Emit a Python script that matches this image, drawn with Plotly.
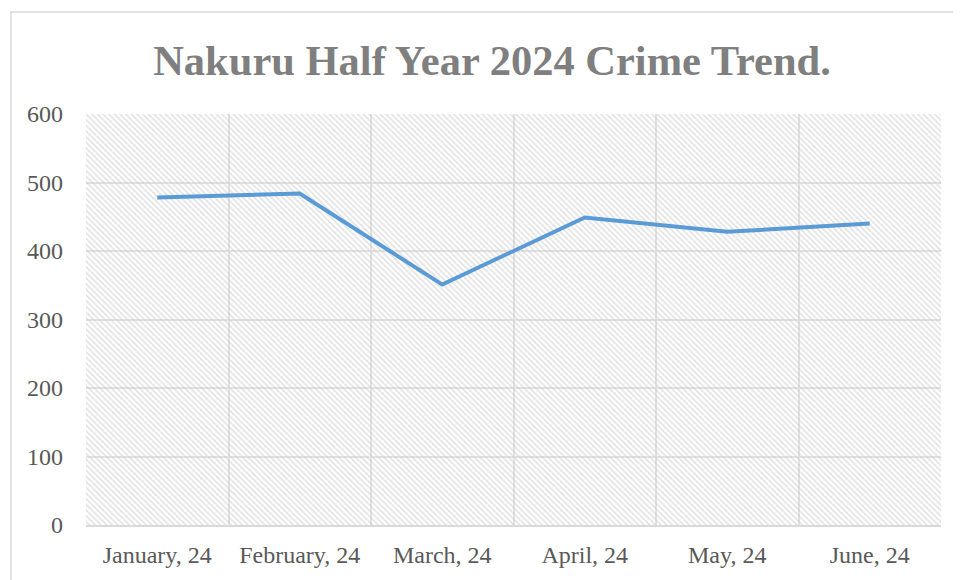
import plotly.graph_objects as go

months = ["January, 24", "February, 24", "March, 24", "April, 24", "May, 24", "June, 24"]
crimes = [478, 484, 351, 449, 428, 440]
y_ticks = [0, 100, 200, 300, 400, 500, 600]
y_max = 600

fig = go.Figure()

# hatched plot-area background (decorative)
fig.add_trace(go.Bar(
    x=months, y=[y_max] * len(months),
    marker=dict(color="rgba(0,0,0,0)", line=dict(width=0),
                pattern=dict(shape="\\", fgcolor="#c4c4c4", bgcolor="rgba(0,0,0,0)",
                             size=4, solidity=0.4, fillmode="overlay")),
    hoverinfo="skip", showlegend=False,
))

fig.add_trace(go.Scatter(
    x=months, y=crimes, mode="lines",
    line=dict(color="#5b9bd5", width=4),
    showlegend=False,
))

# page has an 8px body margin, so work in figure coordinates
W, H = 953, 572
L, R, T, B = 78, 20, 106, 51
pw, ph = W - L - R, H - T - B

def px2x(p):
    return (p - L) / pw

def py2y(p):
    return (H - B - p) / ph

fig.add_shape(type="rect", xref="paper", yref="paper",
              x0=px2x(3), x1=px2x(970), y0=py2y(3), y1=py2y(600),
              line=dict(color="#d9d9d9", width=1.5), fillcolor="rgba(0,0,0,0)", layer="below")

fig.update_layout(
    width=W, height=H,
    margin=dict(l=L, r=R, t=T, b=B),
    paper_bgcolor="white", plot_bgcolor="white",
    bargap=0,
    title=dict(text="<b>Nakuru Half Year 2024 Crime Trend.</b>", x=484 / W, xanchor="center",
               xref="container", y=1 - 52 / H, yanchor="middle",
               font=dict(family="Liberation Serif", size=42.5, color="#7f7f7f")),
    font=dict(family="Liberation Serif", size=24, color="#595959"),
)

fig.update_xaxes(
    type="category", tickson="boundaries", showgrid=True, gridcolor="#e3e3e3", gridwidth=1.5,
    showline=True, linecolor="#d9d9d9", linewidth=1.5, ticks="", ticklabelstandoff=7,
    tickfont=dict(family="Liberation Serif", size=24, color="#595959"),
    range=[-0.5, len(months) - 0.5], fixedrange=True,
)
fig.update_yaxes(
    range=[0, y_max], tickvals=y_ticks, showgrid=True, gridcolor="#e3e3e3", gridwidth=1.5,
    zeroline=False, ticks="", ticklabelstandoff=22,
    tickfont=dict(family="Liberation Serif", size=24, color="#595959"),
    mirror=False, showline=False,
)

fig.write_html("out.html")
